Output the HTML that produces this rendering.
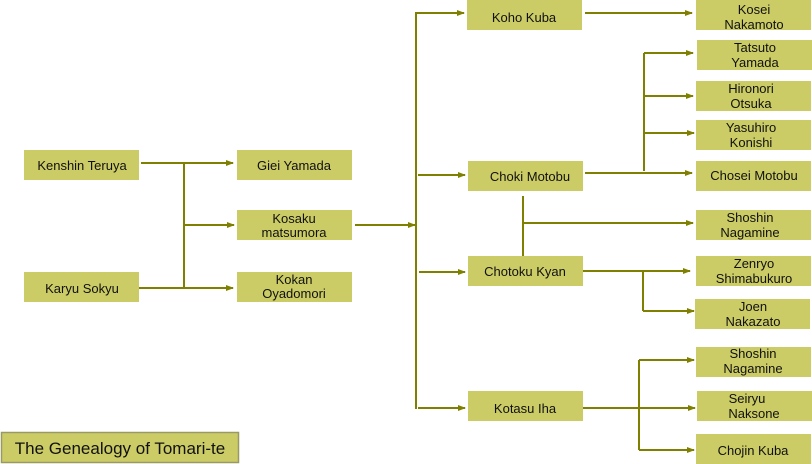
<!DOCTYPE html>
<html><head><meta charset="utf-8"><style>
html,body{margin:0;padding:0;background:#fff;}
svg{display:block;}
text{font-family:"Liberation Sans",sans-serif;font-size:13px;fill:#111;text-anchor:middle;}
</style></head><body>
<svg width="812" height="464" viewBox="0 0 812 464" xmlns="http://www.w3.org/2000/svg">
<defs><marker id="a" markerWidth="8" markerHeight="6" refX="7" refY="3" orient="auto" markerUnits="userSpaceOnUse"><path d="M0,0 L8,3 L0,6 z" fill="#808000"/></marker></defs>
<g fill="#cccc66">
<rect x="24" y="150" width="115" height="30"/>
<rect x="24" y="272" width="115" height="30"/>
<rect x="237" y="150" width="115" height="30"/>
<rect x="237" y="210" width="115" height="30"/>
<rect x="237" y="272" width="115" height="30"/>
<rect x="467" y="0" width="115" height="30"/>
<rect x="468" y="161" width="115" height="30"/>
<rect x="468" y="256" width="115" height="30"/>
<rect x="468" y="391" width="115" height="30"/>
<rect x="696" y="0" width="115" height="30"/>
<rect x="697" y="40" width="115" height="30"/>
<rect x="696" y="81" width="115" height="30"/>
<rect x="696" y="120" width="115" height="30"/>
<rect x="696" y="161" width="115" height="30"/>
<rect x="696" y="210" width="115" height="30"/>
<rect x="696" y="256" width="115" height="30"/>
<rect x="695" y="299" width="115" height="30"/>
<rect x="696" y="347" width="115" height="30"/>
<rect x="697" y="391" width="115" height="30"/>
<rect x="696" y="434" width="115" height="30"/>
</g>
<rect x="1.5" y="432.5" width="237" height="30" fill="#cccc66" stroke="#999966" stroke-width="1.5"/>
<g stroke="#808000" stroke-width="2" fill="none">
<line x1="141" y1="163" x2="233" y2="163" marker-end="url(#a)"/>
<line x1="139" y1="288" x2="233" y2="288" marker-end="url(#a)"/>
<line x1="184" y1="163" x2="184" y2="289"/>
<line x1="184" y1="225" x2="234" y2="225" marker-end="url(#a)"/>
<line x1="355" y1="225" x2="415" y2="225" marker-end="url(#a)"/>
<line x1="416" y1="12" x2="416" y2="409"/>
<line x1="416" y1="13" x2="464" y2="13" marker-end="url(#a)"/>
<line x1="418" y1="175" x2="465" y2="175" marker-end="url(#a)"/>
<line x1="419" y1="272" x2="465" y2="272" marker-end="url(#a)"/>
<line x1="418" y1="408" x2="465" y2="408" marker-end="url(#a)"/>
<line x1="585" y1="13" x2="692" y2="13" marker-end="url(#a)"/>
<line x1="585" y1="173" x2="692" y2="173" marker-end="url(#a)"/>
<line x1="644" y1="53" x2="644" y2="171"/>
<line x1="644" y1="53" x2="693" y2="53" marker-end="url(#a)"/>
<line x1="644" y1="96" x2="693" y2="96" marker-end="url(#a)"/>
<line x1="644" y1="133" x2="694" y2="133" marker-end="url(#a)"/>
<line x1="523" y1="196" x2="523" y2="256"/>
<line x1="523" y1="223" x2="693" y2="223" marker-end="url(#a)"/>
<line x1="583" y1="271" x2="690" y2="271" marker-end="url(#a)"/>
<line x1="643" y1="271" x2="643" y2="311"/>
<line x1="643" y1="311" x2="694" y2="311" marker-end="url(#a)"/>
<line x1="583" y1="408" x2="695" y2="408" marker-end="url(#a)"/>
<line x1="639" y1="360" x2="639" y2="450"/>
<line x1="639" y1="360" x2="694" y2="360" marker-end="url(#a)"/>
<line x1="639" y1="450" x2="694" y2="450" marker-end="url(#a)"/>
</g>
<text x="82" y="170">Kenshin Teruya</text>
<text x="82" y="293">Karyu Sokyu</text>
<text x="294" y="170">Giei Yamada</text>
<text x="294" y="223">Kosaku</text><text x="294" y="237">matsumora</text>
<text x="294" y="284">Kokan</text><text x="294" y="298">Oyadomori</text>
<text x="524" y="22">Koho Kuba</text>
<text x="530" y="181">Choki Motobu</text>
<text x="525" y="276">Chotoku Kyan</text>
<text x="525" y="413">Kotasu Iha</text>
<text x="754" y="14">Kosei</text><text x="754" y="29">Nakamoto</text>
<text x="755" y="52">Tatsuto</text><text x="755" y="67">Yamada</text>
<text x="751" y="93">Hironori</text><text x="751" y="108">Otsuka</text>
<text x="751" y="132">Yasuhiro</text><text x="751" y="147">Konishi</text>
<text x="754" y="180">Chosei Motobu</text>
<text x="750" y="222">Shoshin</text><text x="750" y="237">Nagamine</text>
<text x="754" y="268">Zenryo</text><text x="754" y="283">Shimabukuro</text>
<text x="753" y="311">Joen</text><text x="753" y="326">Nakazato</text>
<text x="753" y="358">Shoshin</text><text x="753" y="373">Nagamine</text>
<text x="747" y="403">Seiryu</text><text x="754" y="418">Naksone</text>
<text x="753" y="455">Chojin Kuba</text>
<text x="120" y="454" style="font-size:17px">The Genealogy of Tomari-te</text>
</svg>
</body></html>
